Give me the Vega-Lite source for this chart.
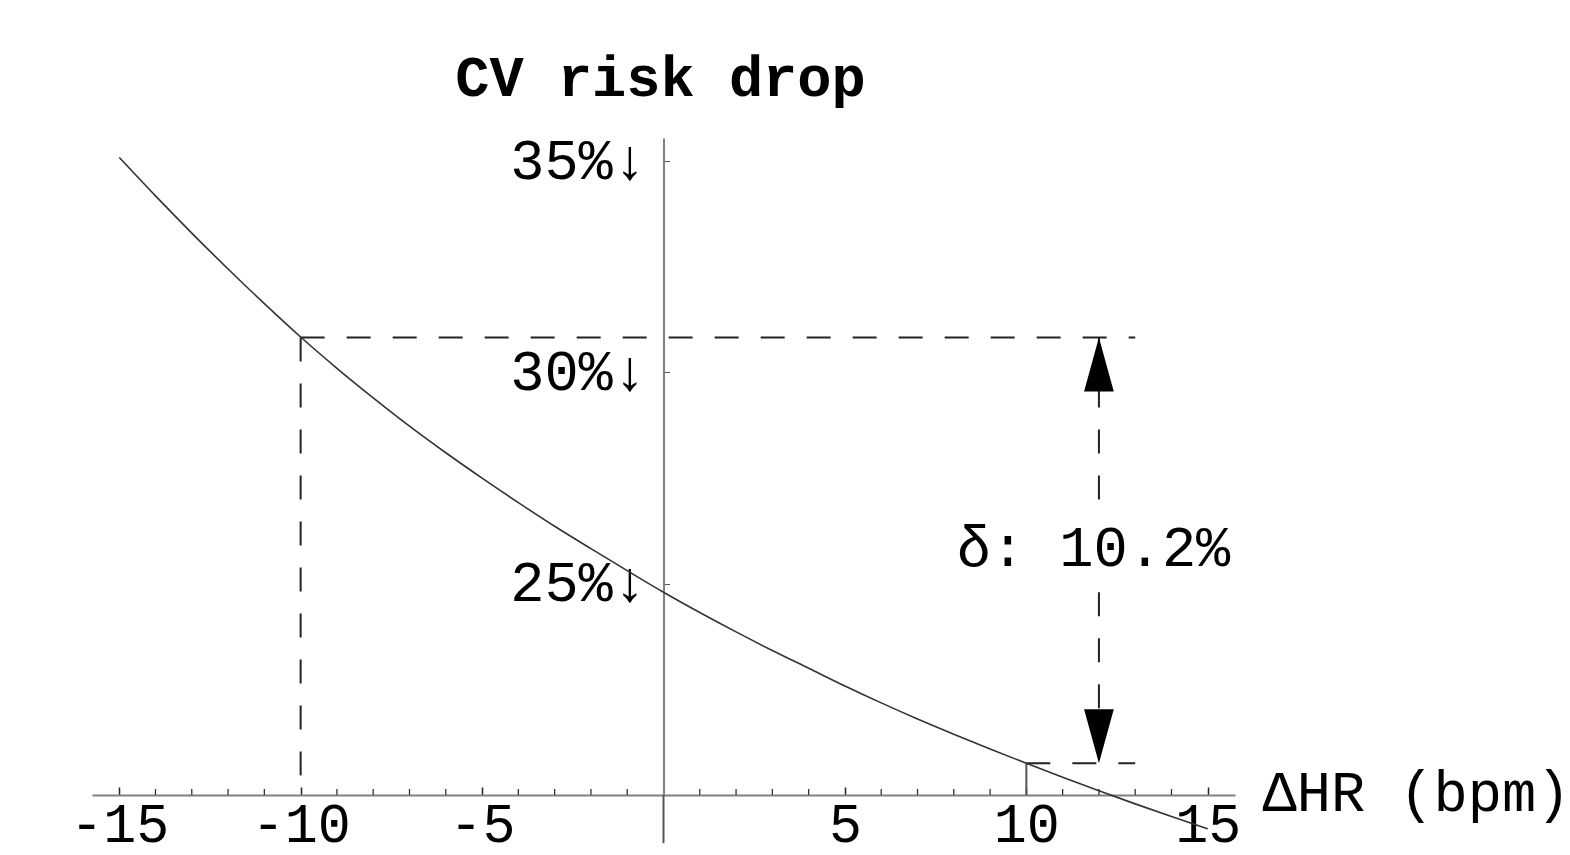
{
  "$schema": "https://vega.github.io/schema/vega-lite/v6.json",
  "autosize": {"type": "none"},
  "width": 1143,
  "height": 657,
  "padding": {"left": 92, "top": 138, "right": 335, "bottom": 60},
  "background": "white",
  "config": {
    "view": {"stroke": null},
    "font": "Liberation Mono",
    "axis": {"grid": false, "labelFont": "Liberation Mono", "titleFont": "Liberation Mono", "labelColor": "black", "titleColor": "black", "labelOverlap": false}
  },
  "datasets": {
    "curve": [
      {"dhr": -15, "drop": 35.09},
      {"dhr": -14, "drop": 34.18},
      {"dhr": -13, "drop": 33.3},
      {"dhr": -12, "drop": 32.45},
      {"dhr": -11, "drop": 31.63},
      {"dhr": -10, "drop": 30.84},
      {"dhr": -9, "drop": 30.1},
      {"dhr": -8, "drop": 29.4},
      {"dhr": -7, "drop": 28.73},
      {"dhr": -6, "drop": 28.1},
      {"dhr": -5, "drop": 27.5},
      {"dhr": -4, "drop": 26.92},
      {"dhr": -3, "drop": 26.36},
      {"dhr": -2, "drop": 25.83},
      {"dhr": -1, "drop": 25.31},
      {"dhr": 0, "drop": 24.8},
      {"dhr": 1, "drop": 24.32},
      {"dhr": 2, "drop": 23.86},
      {"dhr": 3, "drop": 23.42},
      {"dhr": 4, "drop": 23.0},
      {"dhr": 5, "drop": 22.58},
      {"dhr": 6, "drop": 22.18},
      {"dhr": 7, "drop": 21.8},
      {"dhr": 8, "drop": 21.44},
      {"dhr": 9, "drop": 21.09},
      {"dhr": 10, "drop": 20.75},
      {"dhr": 11, "drop": 20.42},
      {"dhr": 12, "drop": 20.1},
      {"dhr": 13, "drop": 19.79},
      {"dhr": 14, "drop": 19.49},
      {"dhr": 15, "drop": 19.2}
    ],
    "minorTicks": [
      {"x": -14, "y": 20}, {"x": -13, "y": 20}, {"x": -12, "y": 20}, {"x": -11, "y": 20},
      {"x": -9, "y": 20}, {"x": -8, "y": 20}, {"x": -7, "y": 20}, {"x": -6, "y": 20},
      {"x": -4, "y": 20}, {"x": -3, "y": 20}, {"x": -2, "y": 20}, {"x": -1, "y": 20},
      {"x": 1, "y": 20}, {"x": 2, "y": 20}, {"x": 3, "y": 20}, {"x": 4, "y": 20},
      {"x": 6, "y": 20}, {"x": 7, "y": 20}, {"x": 8, "y": 20}, {"x": 9, "y": 20},
      {"x": 11, "y": 20}, {"x": 12, "y": 20}, {"x": 13, "y": 20}, {"x": 14, "y": 20}
    ],
    "dashed": [
      {"x": -10, "x2": 13, "y": 30.83, "y2": 30.83},
      {"x": -10, "x2": -10, "y": 30.83, "y2": 20},
      {"x": 10, "x2": 13, "y": 20.75, "y2": 20.75},
      {"x": 12, "x2": 12, "y": 30.83, "y2": 26.8},
      {"x": 12, "x2": 12, "y": 24.8, "y2": 20.75}
    ],
    "solid": [
      {"x": 10, "x2": 10, "y": 20.75, "y2": 20},
      {"x": 0, "x2": 0, "y": 20, "y2": 18.86}
    ],
    "arrowUp": [{"x": 12, "y": 30.83}],
    "arrowDown": [{"x": 12, "y": 20.75}],
    "label": [{"x": 11.85, "y": 25.83, "text": "δ: 10.2%"}]
  },
  "layer": [
    {
      "data": {"name": "solid"},
      "mark": {"type": "rule", "color": "#555555", "strokeWidth": 2},
      "encoding": {
        "x": {"field": "x", "type": "quantitative", "scale": {"domain": [-15.75, 15.75], "nice": false, "zero": false},
          "axis": {
            "values": [-15, -10, -5, 5, 10, 15],
            "labelExpr": "'' + datum.value",
            "labelOverlap": false,
            "labelFontSize": 55,
            "labelPadding": 54,
            "labelBaseline": "alphabetic",
            "tickSize": -8,
            "tickColor": "#222222",
            "tickWidth": 1.5,
            "domainColor": "#808080",
            "domainWidth": 2,
            "title": "ΔHR (bpm)",
            "titleFontSize": 57,
            "titleFontWeight": "normal",
            "titleAlign": "left",
            "titleBaseline": "middle",
            "titleAngle": 0,
            "titleX": 1170,
            "titleY": -2
          }},
        "x2": {"field": "x2"},
        "y": {"field": "y", "type": "quantitative", "scale": {"domain": [20, 35.55], "nice": false, "zero": false},
          "axis": {
            "values": [25, 30, 35],
            "labelExpr": "datum.value + '%↓'",
            "labelOverlap": false,
            "labelFontSize": 57,
            "labelPadding": 23,
            "labelBaseline": "middle",
            "offset": -571.5,
            "tickSize": -6,
            "tickColor": "#555555",
            "tickWidth": 1,
            "domainColor": "#808080",
            "domainWidth": 2,
            "title": "CV risk drop",
            "titleFontSize": 57,
            "titleFontWeight": "bold",
            "titleAngle": 0,
            "titleAlign": "center",
            "titleBaseline": "middle",
            "titleX": -3.5,
            "titleY": -60
          }},
        "y2": {"field": "y2"}
      }
    },
    {
      "data": {"name": "minorTicks"},
      "mark": {"type": "point", "shape": "M0,0L0,-1", "filled": false, "stroke": "#333333", "strokeWidth": 1.3, "opacity": 1, "size": 144},
      "encoding": {
        "x": {"field": "x", "type": "quantitative"},
        "y": {"field": "y", "type": "quantitative"}
      }
    },
    {
      "data": {"name": "dashed"},
      "mark": {"type": "rule", "color": "#222222", "strokeWidth": 2, "strokeDash": [24, 22]},
      "encoding": {
        "x": {"field": "x", "type": "quantitative"},
        "x2": {"field": "x2"},
        "y": {"field": "y", "type": "quantitative"},
        "y2": {"field": "y2"}
      }
    },
    {
      "data": {"name": "curve"},
      "mark": {"type": "line", "color": "#333333", "strokeWidth": 1.6, "interpolate": "monotone"},
      "encoding": {
        "x": {"field": "dhr", "type": "quantitative"},
        "y": {"field": "drop", "type": "quantitative"}
      }
    },
    {
      "data": {"name": "arrowUp"},
      "mark": {"type": "point", "shape": "M0,0L-0.275,1L0.275,1Z", "filled": true, "color": "black", "opacity": 1, "size": 11664},
      "encoding": {
        "x": {"field": "x", "type": "quantitative"},
        "y": {"field": "y", "type": "quantitative"}
      }
    },
    {
      "data": {"name": "arrowDown"},
      "mark": {"type": "point", "shape": "M0,0L-0.275,-1L0.275,-1Z", "filled": true, "color": "black", "opacity": 1, "size": 11664},
      "encoding": {
        "x": {"field": "x", "type": "quantitative"},
        "y": {"field": "y", "type": "quantitative"}
      }
    },
    {
      "data": {"name": "label"},
      "mark": {"type": "text", "font": "Liberation Mono", "fontSize": 57, "align": "center", "baseline": "middle", "color": "black"},
      "encoding": {
        "x": {"field": "x", "type": "quantitative"},
        "y": {"field": "y", "type": "quantitative"},
        "text": {"field": "text"}
      }
    }
  ]
}
